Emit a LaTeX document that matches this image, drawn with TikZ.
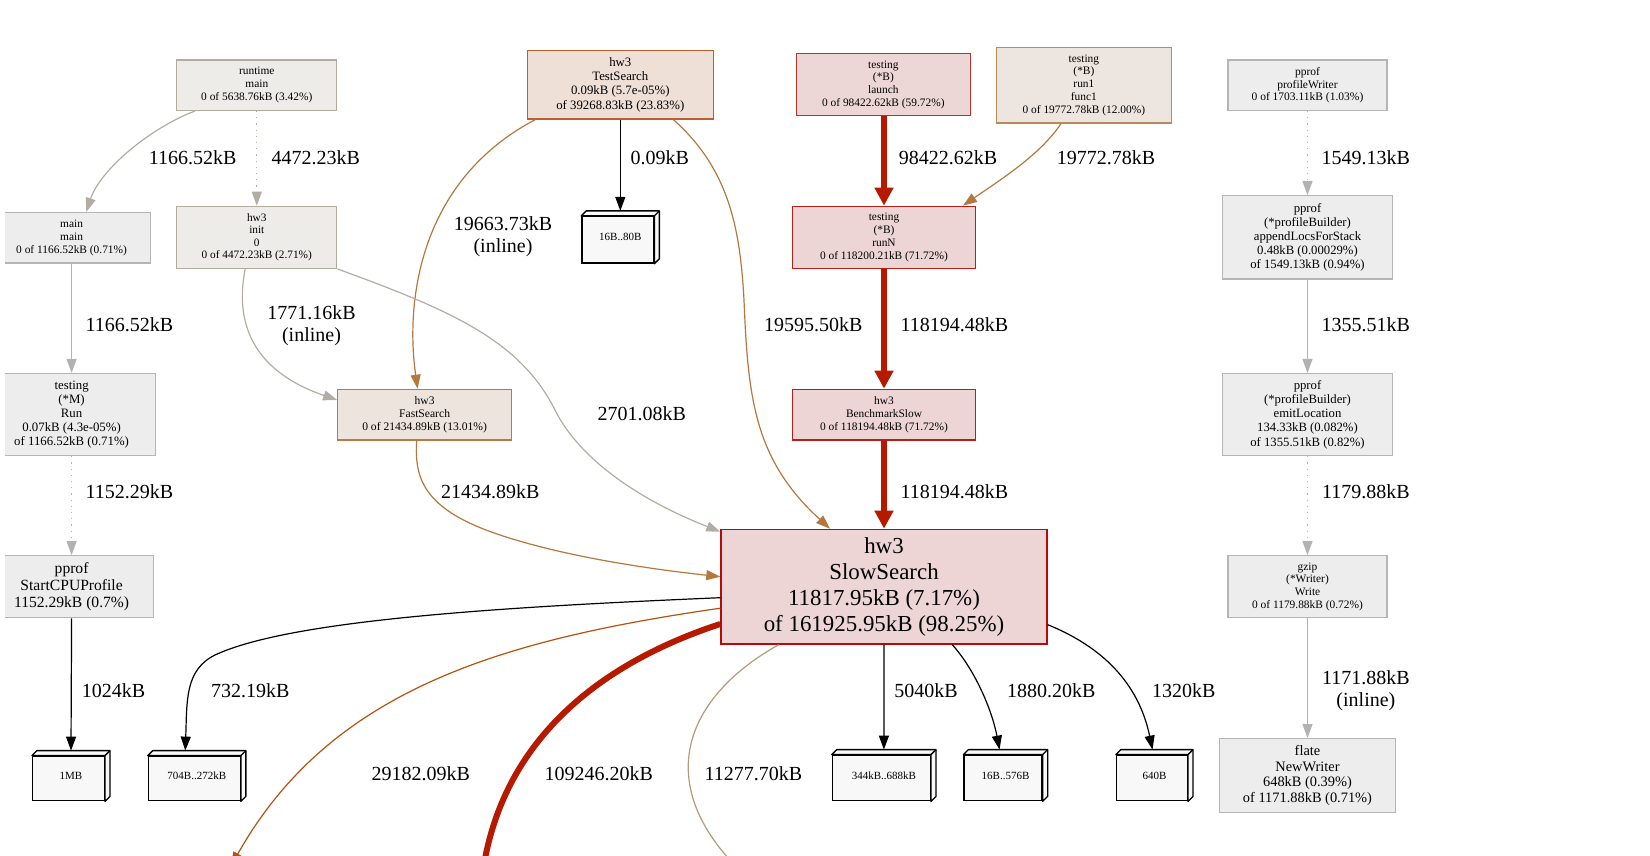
\documentclass[tikz,border=0pt]{standalone}
\usepackage{fontspec}
\setmainfont{Liberation Serif}
\usetikzlibrary{arrows.meta}
\definecolor{gfill}{HTML}{EDEDED}
\definecolor{gline}{HTML}{B5B5B5}
\definecolor{wfill}{HTML}{EDECE9}
\definecolor{wline}{HTML}{B2AC9F}
\definecolor{tsfill}{HTML}{EEDFD7}
\definecolor{tsline}{HTML}{B8612E}
\definecolor{fsfill}{HTML}{EDE4DE}
\definecolor{fsline}{HTML}{B97A45}
\definecolor{lafill}{HTML}{EDD7D6}
\definecolor{laline}{HTML}{B8342A}
\definecolor{rifill}{HTML}{EDE5DF}
\definecolor{riline}{HTML}{B98B5A}
\definecolor{rnfill}{HTML}{EDD5D5}
\definecolor{rnline}{HTML}{B81F14}
\definecolor{ssline}{HTML}{B8080A}
\definecolor{cubefill}{HTML}{F8F8F8}
\definecolor{ered}{HTML}{B51A00}
\definecolor{ebrown}{HTML}{B5773E}
\definecolor{eorange}{HTML}{B5520F}
\definecolor{etan}{HTML}{B59A78}
\definecolor{egray}{HTML}{B2B2B2}
\definecolor{ewarm}{HTML}{B2ADA2}
\tikzset{
  box/.style={draw, rectangle, inner sep=0pt, align=center, line width=1.3pt},
  gbox/.style={box, fill=gfill, draw=gline},
  wbox/.style={box, fill=wfill, draw=wline},
  cube/.style={draw=black, fill=cubefill, rectangle, inner sep=0pt, line width=1.3pt, font=\fontsize{11}{13}\selectfont},
  cubeln/.style={draw=black, fill=cubefill, line width=1.3pt, line join=round},
  lbl/.style={inner sep=0pt, font=\fontsize{20}{22}\selectfont, align=center},
  arrthin/.style={line width=1.2pt, -{Triangle[length=14pt,width=10pt]}},
  arrthick/.style={line width=6pt, -{Triangle[length=18pt,width=18pt]}},
  dotline/.style={dash pattern=on 1.2pt off 5pt},
  fS/.style={font=\fontsize{11.4}{12.8}\selectfont},
  fM/.style={font=\fontsize{12.8}{14.2}\selectfont}
}
\newcommand\cubeback[1]{%
  \filldraw[cubeln] (#1.north west) -- ++(5,-5) -- ([shift={(5,-5)}]#1.north east)
    -- ([shift={(5,-5)}]#1.south east) -- (#1.south east) -- (#1.north east) -- cycle;
  \draw[cubeln] (#1.north east) -- ++(5,-5);}
\newcommand\cubetxt[1]{\hspace*{5pt}\raisebox{5pt}{#1}}
\begin{document}
\begin{tikzpicture}[x=1pt,y=-1pt]
\useasboundingbox (0,0) rectangle (1650,856);
\begin{scope}
\clip (5,0) rectangle (1650,856);
% ---------- nodes ----------
\node[wbox, fS, minimum width=160, minimum height=50.5] (rt) at (256.8,85.2) {runtime\\main\\0 of 5638.76kB (3.42\%)};
\node[gbox, fS, minimum width=157.8, minimum height=50.5] (mm) at (71.6,237.8) {main\\main\\0 of 1166.52kB (0.71\%)};
\node[wbox, fS, font=\fontsize{11.3}{12.6}\selectfont, minimum width=160, minimum height=62] (init) at (256.8,237.3) {hw3\\init\\0\\0 of 4472.23kB (2.71\%)};
\node[gbox, fM, minimum width=168.2, minimum height=82] (run) at (71.6,414.6) {testing\\(*M)\\Run\\0.07kB (4.3e-05\%)\\of 1166.52kB (0.71\%)};
\node[gbox, font=\fontsize{15.6}{17}\selectfont, minimum width=164, minimum height=62] (scpu) at (71.6,586.7) {pprof\\StartCPUProfile\\1152.29kB (0.7\%)};
\node[cube, minimum width=71.8, minimum height=44.5] (c1mb) at (68.5,778.5) {\cubetxt{1MB}};
\cubeback{c1mb}
\node[cube, minimum width=91.8, minimum height=44.5] (c704) at (194.3,778.5) {\cubetxt{704B..272kB}};
\cubeback{c704}
\node[box, fill=tsfill, draw=tsline, fM, minimum width=186.3, minimum height=68.4] (ts) at (620.3,84.7) {hw3\\TestSearch\\0.09kB (5.7e-05\%)\\of 39268.83kB (23.83\%)};
\node[cube, minimum width=71.8, minimum height=46.6] (c16) at (617.8,239.8) {\cubetxt{16B..80B}};
\cubeback{c16}
\node[box, fill=fsfill, draw=fsline, font=\fontsize{11.6}{13}\selectfont, minimum width=173.6, minimum height=50.5] (fs) at (424.6,414.6) {hw3\\FastSearch\\0 of 21434.89kB (13.01\%)};
\node[box, fill=lafill, draw=laline, fS, minimum width=173.6, minimum height=62] (la) at (883.4,84.7) {testing\\(*B)\\launch\\0 of 98422.62kB (59.72\%)};
\node[box, fill=rifill, draw=riline, fS, minimum width=174.7, minimum height=75.8] (r1) at (1083.9,85.2) {testing\\(*B)\\run1\\func1\\0 of 19772.78kB (12.00\%)};
\node[box, fill=rnfill, draw=rnline, fS, minimum width=183, minimum height=62] (rn) at (884,237.3) {testing\\(*B)\\runN\\0 of 118200.21kB (71.72\%)};
\node[box, fill=rnfill, draw=rnline, fS, minimum width=183, minimum height=50.5] (bs) at (884,414.6) {hw3\\BenchmarkSlow\\0 of 118194.48kB (71.72\%)};
\node[box, fill=rnfill, draw=ssline, font=\fontsize{22.9}{26}\selectfont, minimum width=326.2, minimum height=114.7] (ss) at (884,586.7) {hw3\\SlowSearch\\11817.95kB (7.17\%)\\of 161925.95kB (98.25\%)};
\node[cube, minimum width=98, minimum height=45.5] (c344) at (881.4,778) {\cubetxt{344kB..688kB}};
\cubeback{c344}
\node[cube, minimum width=78, minimum height=45.5] (c576) at (1003,778) {\cubetxt{16B..576B}};
\cubeback{c576}
\node[cube, minimum width=70.8, minimum height=45.5] (c640) at (1152,778) {\cubetxt{640B}};
\cubeback{c640}
\node[gbox, font=\fontsize{11.5}{12.6}\selectfont, minimum width=159, minimum height=50.5] (pw) at (1307.5,85.2) {pprof\\profileWriter\\0 of 1703.11kB (1.03\%)};
\node[gbox, font=\fontsize{12.7}{14.2}\selectfont, minimum width=169.4, minimum height=83.2] (al) at (1307.5,237.3) {pprof\\(*profileBuilder)\\appendLocsForStack\\0.48kB (0.00029\%)\\of 1549.13kB (0.94\%)};
\node[gbox, font=\fontsize{12.7}{14.2}\selectfont, minimum width=169.4, minimum height=82] (el) at (1307.5,414.6) {pprof\\(*profileBuilder)\\emitLocation\\134.33kB (0.082\%)\\of 1355.51kB (0.82\%)};
\node[gbox, font=\fontsize{11.4}{12.6}\selectfont, minimum width=159, minimum height=62] (gz) at (1307.5,586.7) {gzip\\(*Writer)\\Write\\0 of 1179.88kB (0.72\%)};
\node[gbox, font=\fontsize{14.4}{15.8}\selectfont, minimum width=175.7, minimum height=73.7] (fl) at (1307.5,775.5) {flate\\NewWriter\\648kB (0.39\%)\\of 1171.88kB (0.71\%)};
% ---------- free ends ----------
\coordinate (off1) at (231,866);
\coordinate (off2) at (480,900);
\coordinate (off3) at (750,880);
% ---------- edges ----------
\draw[arrthin, color=ewarm] ([xshift=-62]rt.south) .. controls (150,128) and (100,170) .. ([xshift=14.7]mm.north);
\draw[arrthin, dotline, color=ewarm] (rt.south) -- (init.north);
\draw[arrthin, color=egray] (mm.south) -- (run.north);
\draw[arrthin, dotline, color=egray] (run.south) -- (scpu.north);
\draw[arrthin, color=black] (scpu.south) -- ([shift={(2.5,-5)}]c1mb.north);
\draw[arrthin, color=black] ([yshift=-11]ss.west) .. controls (500,607) and (290,620) .. (215,655) .. controls (185,670) and (187,700) .. ([shift={(-9,-5)}]c704.north);
\draw[arrthin, color=ebrown] ([xshift=9]ts.south west) .. controls (420,180) and (405,300) .. ([xshift=-7]fs.north);
\draw[arrthin, color=black] (ts.south) -- ([shift={(2.5,-5)}]c16.north);
\draw[arrthin, color=ebrown] ([xshift=53]ts.south) .. controls (730,170) and (740,230) .. (744,300) .. controls (748,400) and (755,460) .. ([xshift=-54]ss.north);
\draw[arrthin, color=ewarm] ([xshift=-11.6]init.south) .. controls (235,320) and (250,370) .. ([yshift=14.6]fs.west);
\draw[arrthin, color=ewarm] (init.south east) .. controls (450,310) and (520,340) .. (555,410) .. controls (580,460) and (640,500) .. ([yshift=55]ss.west);
\draw[arrthin, color=ebrown] ([xshift=-7.9]fs.south) .. controls (414,480) and (425,510) .. (500,535) .. controls (560,555) and (640,568) .. ([yshift=10]ss.west);
\draw[line width=5.5pt, -{Triangle[length=18pt,width=18pt]}, color=ered] ([xshift=0.6]la.south) -- (rn.north);
\draw[arrthin, color=ebrown] ([xshift=-23]r1.south) .. controls (1040,155) and (1000,180) .. ([xshift=79]rn.north);
\draw[arrthick, color=ered] (rn.south) -- (bs.north);
\draw[arrthick, color=ered] (bs.south) -- (ss.north);
\draw[arrthin, color=black] (ss.south) -- ([shift={(2.5,-5)}]c344.north);
\draw[arrthin, color=black] ([xshift=68.3]ss.south) .. controls (975,670) and (992,710) .. ([shift={(-3.5,-5)}]c576.north);
\draw[arrthin, color=black] ([yshift=-38]ss.east) .. controls (1110,650) and (1140,690) .. ([shift={(0.5,-5)}]c640.north);
\draw[arrthin, color=eorange] ([yshift=-21.5]ss.west) .. controls (500,640) and (330,690) .. (off1);
\draw[line width=6pt, color=ered] ([yshift=-37.3]ss.west) .. controls (580,670) and (488,760) .. (off2);
\draw[line width=1.2pt, color=etan] ([xshift=-105.3]ss.south) .. controls (680,700) and (650,790) .. (off3);
\draw[arrthin, dotline, color=egray] (pw.south) -- (al.north);
\draw[arrthin, color=egray] (al.south) -- (el.north);
\draw[arrthin, dotline, color=egray] (el.south) -- (gz.north);
\draw[arrthin, color=egray] (gz.south) -- (fl.north);
% ---------- edge labels ----------
\node[lbl] (l1) at (192.6,157.8) {1166.52kB};
\node[lbl] (l2) at (315.7,157.8) {4472.23kB};
\node[lbl] (l3) at (129.4,325.2) {1166.52kB};
\node[lbl] (l4) at (129.4,491.4) {1152.29kB};
\node[lbl] (l5) at (113.6,690.3) {1024kB};
\node[lbl] (l6) at (250.4,690.3) {732.19kB};
\node[lbl] (l7) at (503,236.8) {19663.73kB\\(inline)};
\node[lbl] (l8) at (659.8,157.8) {0.09kB};
\node[lbl] (l9) at (311.5,325.2) {1771.16kB\\(inline)};
\node[lbl] (l10) at (641.9,413.6) {2701.08kB};
\node[lbl] (l11) at (490.4,491.4) {21434.89kB};
\node[lbl] (l12) at (813.4,325.2) {19595.50kB};
\node[lbl] (l13) at (948.1,157.8) {98422.62kB};
\node[lbl] (l14) at (1106,157.8) {19772.78kB};
\node[lbl] (l15) at (954.4,325.2) {118194.48kB};
\node[lbl] (l16) at (954.4,491.4) {118194.48kB};
\node[lbl] (l17) at (1365.9,157.8) {1549.13kB};
\node[lbl] (l18) at (1365.9,325.2) {1355.51kB};
\node[lbl] (l19) at (1365.9,491.4) {1179.88kB};
\node[lbl] (l20) at (1365.9,690.3) {1171.88kB\\(inline)};
\node[lbl] (l21) at (420.9,773.4) {29182.09kB};
\node[lbl] (l22) at (598.8,773.4) {109246.20kB};
\node[lbl] (l23) at (753.4,773.4) {11277.70kB};
\node[lbl] (l24) at (926,690.3) {5040kB};
\node[lbl] (l25) at (1051.2,690.3) {1880.20kB};
\node[lbl] (l26) at (1183.8,690.3) {1320kB};
\end{scope}
\end{tikzpicture}
\end{document}
